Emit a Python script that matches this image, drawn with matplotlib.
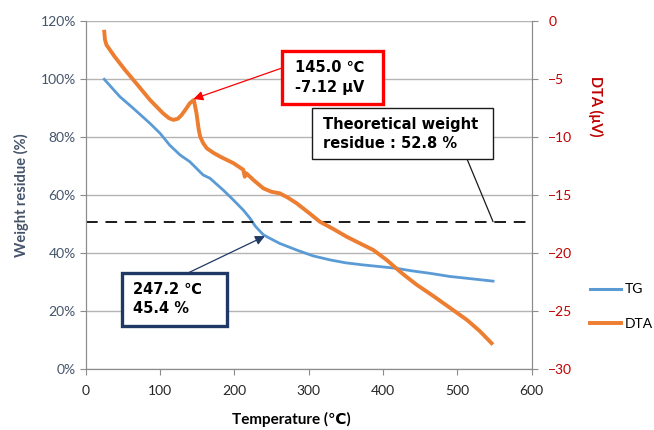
import numpy as np
import matplotlib
matplotlib.use("Agg")
import matplotlib.pyplot as plt
from matplotlib.lines import Line2D
from matplotlib.patches import Rectangle

plt.rcParams['font.family'] = ['Lato', 'DejaVu Sans']

# TG curve (weight residue, %)
tg_temp = [25, 46, 64, 86.5, 100, 113, 127, 140, 158, 167, 185, 198.6, 212, 221, 228, 234.5,
           239, 246, 261, 284, 306, 329, 350, 373, 396, 418, 440, 463, 490, 512, 530, 548]
tg_val = [100, 94.0, 90.0, 84.8, 81.4, 77.3, 73.9, 71.6, 67.0, 65.9, 61.8, 58.4, 54.9, 52.1,
          49.4, 47.6, 46.4, 45.4, 43.4, 41.1, 39.1, 37.7, 36.7, 36.0, 35.4, 34.8, 33.9, 33.1,
          32.0, 31.4, 30.9, 30.4]

# DTA curve (uV)
dta_temp = [25, 26, 28, 39, 53, 70, 86.5, 104, 112, 118, 124, 129, 135, 140, 145.5, 149, 152,
            154, 158, 163, 172, 181, 199, 212, 214, 216, 226, 239, 250, 261, 272, 284, 300,
            315, 333, 351, 369, 387, 396, 405, 416, 427, 445, 468, 490, 513, 530, 546]
dta_val = [-0.9, -1.6, -2.04, -3.05, -4.2, -5.5, -6.78, -7.93, -8.35, -8.5, -8.4, -8.08,
           -7.55, -7.07, -6.78, -7.9, -9.3, -9.95, -10.5, -10.95, -11.35, -11.67, -12.24,
           -12.8, -13.4, -13.1, -13.7, -14.4, -14.7, -14.83, -15.2, -15.7, -16.5, -17.28,
           -17.9, -18.57, -19.15, -19.72, -20.15, -20.58, -21.2, -21.8, -22.7, -23.7, -24.7,
           -25.75, -26.7, -27.75]

theo_line = 50.9
x_ticks = [0, 100, 200, 300, 400, 500, 600]
y_ticks = [0, 20, 40, 60, 80, 100, 120]
y2_ticks = [0, -5, -10, -15, -20, -25, -30]

blue = '#5B9BD5'
orange = '#ED7D31'
slate = '#44546A'
red = '#C00000'
grid_c = '#B4B4B4'
spine_c = '#8C8C8C'

fig = plt.figure(figsize=(6.54, 4.30), dpi=100)
ax = fig.add_axes([0.131, 0.1412, 0.682, 0.8093])
ax2 = ax.twinx()

ax.set_xlim(0, 600)
ax.set_ylim(0, 120)
ax2.set_ylim(-30, 0)

ax.set_xticks(x_ticks)
ax.set_yticks(y_ticks)
ax.set_yticklabels([f'{v}%' for v in y_ticks])
ax2.set_yticks(y2_ticks)
ax.yaxis.grid(True, color=grid_c, lw=1)
ax.set_axisbelow(True)

for a in (ax, ax2):
    a.spines['top'].set_visible(False)
    for s in ('left', 'right', 'bottom'):
        a.spines[s].set_color(spine_c)
ax.tick_params(axis='x', colors=spine_c, labelcolor='#262626', labelsize=10, length=4, pad=7)
ax.tick_params(axis='y', colors=spine_c, labelcolor=slate, labelsize=10, length=4, pad=3)
ax2.tick_params(axis='y', colors=spine_c, labelcolor=red, labelsize=10, length=4, pad=8)

ax.plot(tg_temp, tg_val, color=blue, lw=2.0, zorder=3, solid_joinstyle='round')
ax2.plot(dta_temp, dta_val, color=orange, lw=2.8, zorder=3, solid_joinstyle='round')
ax.axhline(theo_line, color='#1a1a1a', lw=1.4, dashes=(6, 4), zorder=4)

ax.set_ylabel('Weight residue (%)', color=slate, fontweight='bold', fontsize=10.5, labelpad=8)
fig.text(0.445, 0.008, 'Temperature (℃)', ha='center', va='bottom', fontweight='bold',
         fontsize=11, color='#000000')
fig.text(0.91, 0.752, 'DTA (μV)', rotation=270, ha='center', va='center',
         fontweight='bold', fontsize=10.5, color=red)

ann_font = dict(family=['DejaVu Sans'], fontweight='bold', fontsize=10.5,
                linespacing=1.35, ha='left', va='center', zorder=11)

# peak annotation (DTA axis)
ax2.annotate('', xy=(145, -6.7), xytext=(264, -4.03), zorder=9,
             arrowprops=dict(arrowstyle='-|>', color='#FF0000', lw=0.9,
                             mutation_scale=14, shrinkA=0, shrinkB=0))
ax2.add_patch(Rectangle((264, -7.13), 136, 4.57, fc='white', ec='#FF0000', lw=2.4, zorder=10))
ax2.text(281.6, -4.85, '145.0 ℃\n-7.12 μV', **ann_font)

# theoretical residue box
ax.annotate('', xy=(548, theo_line), xytext=(513, 72.5), zorder=9,
            arrowprops=dict(arrowstyle='-', color='#1a1a1a', lw=0.9, shrinkA=0, shrinkB=0))
ax.add_patch(Rectangle((304.4, 72.5), 243.6, 17.6, fc='white', ec='#1a1a1a', lw=1.0, zorder=10))
ax.text(319.2, 81.2, 'Theoretical weight\nresidue : 52.8 %', **ann_font)

# TG point annotation
ax.annotate('', xy=(241, 45.9), xytext=(137.6, 33.2), zorder=9,
            arrowprops=dict(arrowstyle='-|>', color='#1F3864', lw=0.9,
                            mutation_scale=14, shrinkA=0, shrinkB=0))
ax.add_patch(Rectangle((48.8, 14.9), 141.2, 18.3, fc='white', ec='#1F3864', lw=2.4, zorder=10))
ax.text(64.3, 24.1, '247.2 ℃\n45.4 %', **ann_font)

handles = [Line2D([], [], color=blue, lw=2.2), Line2D([], [], color=orange, lw=2.8)]
fig.legend(handles, ['TG', 'DTA'], loc='center left', bbox_to_anchor=(0.892, 0.287),
           frameon=False, fontsize=10, handlelength=2.2, handletextpad=0.3,
           labelspacing=1.6, borderpad=0)

fig.savefig('out.png', dpi=100)
